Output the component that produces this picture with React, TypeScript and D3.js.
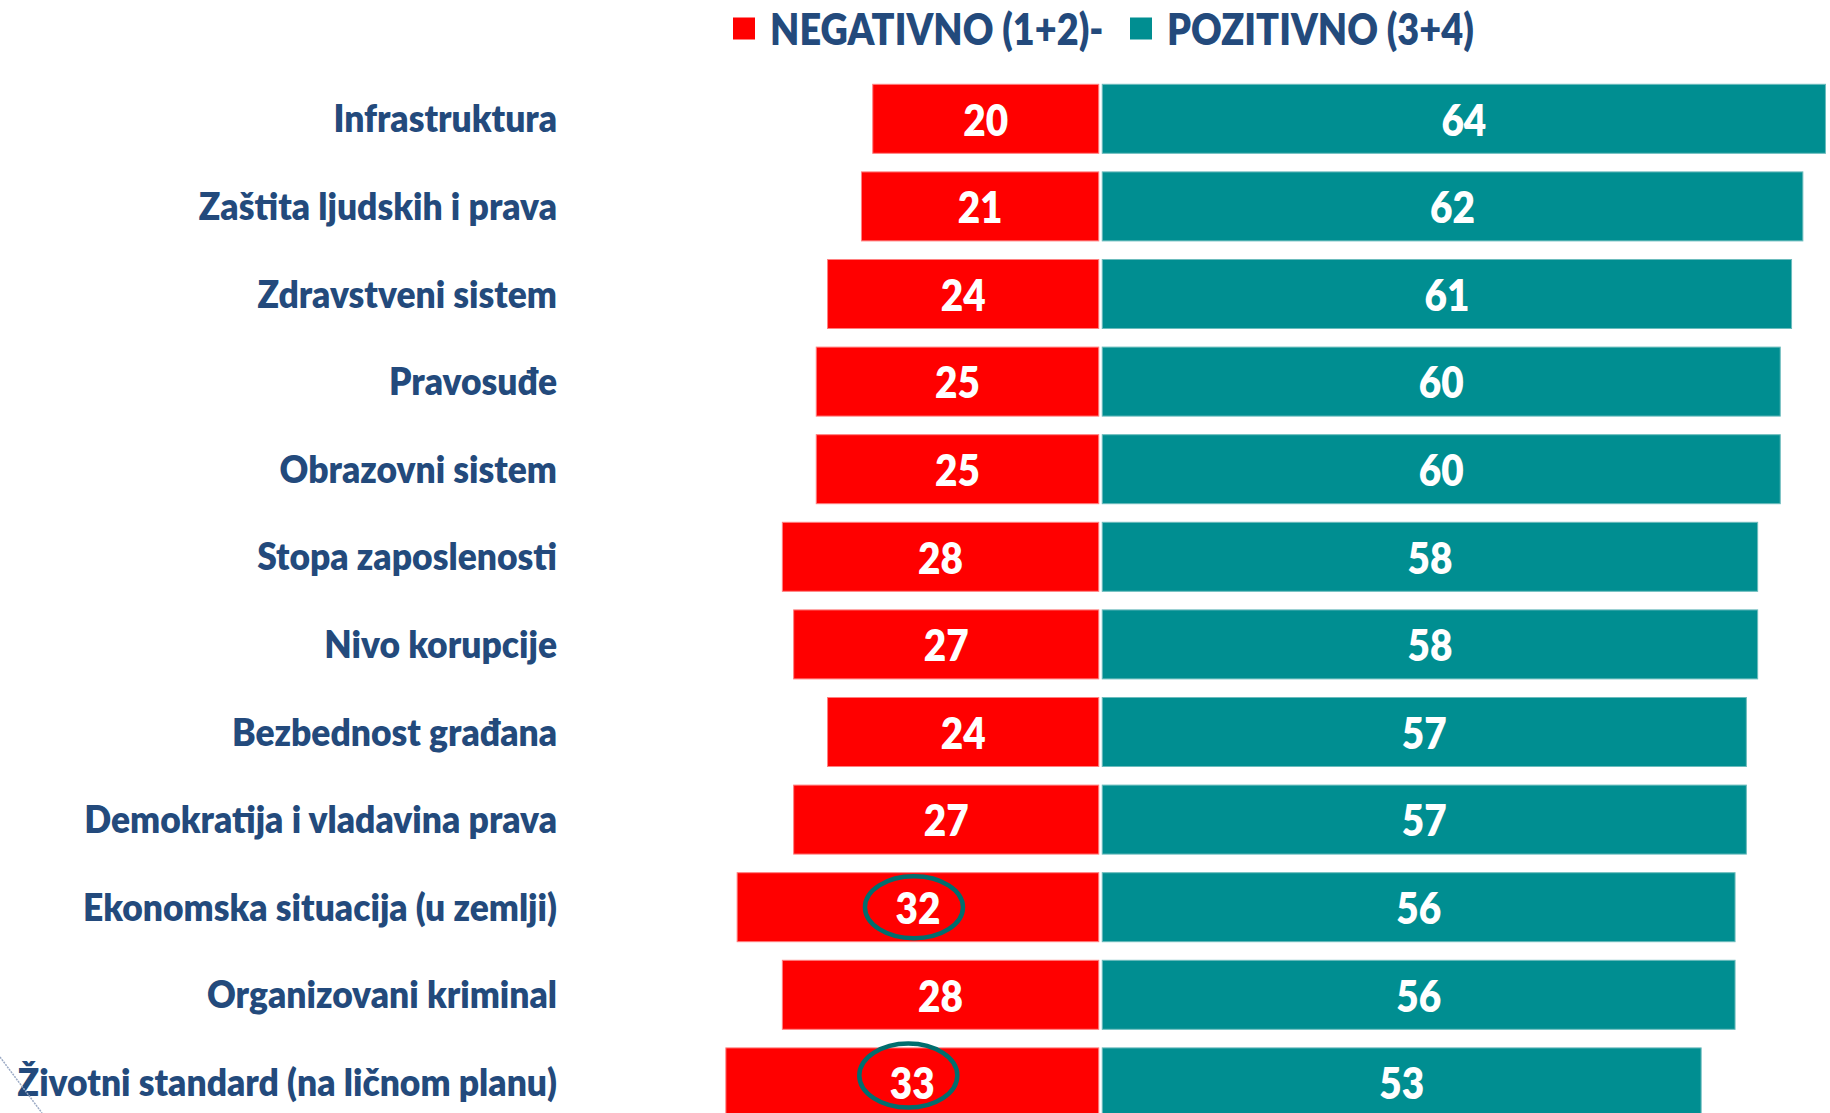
import React from "react";
import * as d3 from "d3";

const categories = [
  "Infrastruktura",
  "Zaštita ljudskih i prava",
  "Zdravstveni sistem",
  "Pravosuđe",
  "Obrazovni sistem",
  "Stopa zaposlenosti",
  "Nivo korupcije",
  "Bezbednost građana",
  "Demokratija i vladavina prava",
  "Ekonomska situacija (u zemlji)",
  "Organizovani kriminal",
  "Životni standard (na ličnom planu)",
];
const negativeValues = [20, 21, 24, 25, 25, 28, 27, 24, 27, 32, 28, 33];
const positiveValues = [64, 62, 61, 60, 60, 58, 58, 57, 57, 56, 56, 53];
const circledCategories = ["Ekonomska situacija (u zemlji)", "Životni standard (na ličnom planu)"];
const legendLabels = ["NEGATIVNO (1+2)-", "POZITIVNO (3+4)"];

const W = 1830;
const H = 1113;
const RED = "#FF0000";
const TEAL = "#008E91";
const NAVY = "#234A7C";
const RING = "#006E6E";
const FONT = "Lato, 'Open Sans', sans-serif";

export default function App() {
  const zero = 1100.5;
  const gap = 1.75;
  const k = 11.3;
  const xPos = d3.scaleLinear().domain([0, 64]).range([zero + gap, zero + gap + 64 * k]);
  const xNeg = d3.scaleLinear().domain([0, 64]).range([zero - gap, zero - gap - 64 * k]);
  const y = d3
    .scaleBand<string>()
    .domain(categories)
    .range([75, 75 + 12 * 87.6])
    .paddingInner(0.2123)
    .paddingOuter(0.2123 / 2);
  const bw = y.bandwidth();

  const legendSx = 0.86;
  const valueSx = 0.88;
  const labelSx = 0.945;

  return (
    <div style={{ position: "absolute", left: 0, top: 0, width: W, height: H, overflow: "hidden" }}>
      <svg width={W} height={H} style={{ display: "block", background: "#fff" }}>
        {/* legend */}
        <g fontFamily={FONT} fontWeight={800} fill={NAVY}>
          <rect x={733} y={17.5} width={22} height={22} fill={RED} />
          <text transform={`translate(770,29) scale(${legendSx},1)`} dy="0.36em" fontSize={44}>{legendLabels[0]}</text>
          <rect x={1130} y={17.5} width={22} height={22} fill={TEAL} />
          <text transform={`translate(1167,29) scale(${legendSx},1)`} dy="0.36em" fontSize={44}>{legendLabels[1]}</text>
        </g>
        {categories.map((c, i) => {
          const yc = (y(c) as number) + bw / 2;
          const n = negativeValues[i];
          const p = positiveValues[i];
          const nx = xNeg(n);
          const px = xPos(p);
          const ncx = (nx + xNeg(0)) / 2;
          const pcx = (xPos(0) + px) / 2;
          return (
            <g key={c}>
              <rect x={nx} y={y(c)} width={xNeg(0) - nx} height={bw} fill={RED} stroke="#ff8080" strokeWidth={1} />
              <rect x={xPos(0)} y={y(c)} width={px - xPos(0)} height={bw} fill={TEAL} stroke="#6cbcbd" strokeWidth={1} />
              <text transform={`translate(557,${yc}) scale(${labelSx},1)`} dy="0.36em" textAnchor="end" fontFamily={FONT} fontWeight={800} fontSize={37.5} fill={NAVY}>
                {c}
              </text>
              <text transform={`translate(${ncx},${yc + 1}) scale(${valueSx},1)`} dy="0.36em" textAnchor="middle" fontFamily={FONT} fontWeight={800} fontSize={44} fill="#fff">
                {n}
              </text>
              <text transform={`translate(${pcx},${yc + 1}) scale(${valueSx},1)`} dy="0.36em" textAnchor="middle" fontFamily={FONT} fontWeight={800} fontSize={44} fill="#fff">
                {p}
              </text>
              {circledCategories.includes(c) && (
                <ellipse cx={ncx - 4} cy={yc - (i === 11 ? 7 : 0)} rx={49} ry={i === 11 ? 32 : 31} fill="none" stroke={RING} strokeWidth={4.5} />
              )}
            </g>
          );
        })}
        <line x1={0} y1={1057} x2={42} y2={1113} stroke="#9aa9c4" strokeWidth={1.5} strokeDasharray="2 1" />
      </svg>
    </div>
  );
}
